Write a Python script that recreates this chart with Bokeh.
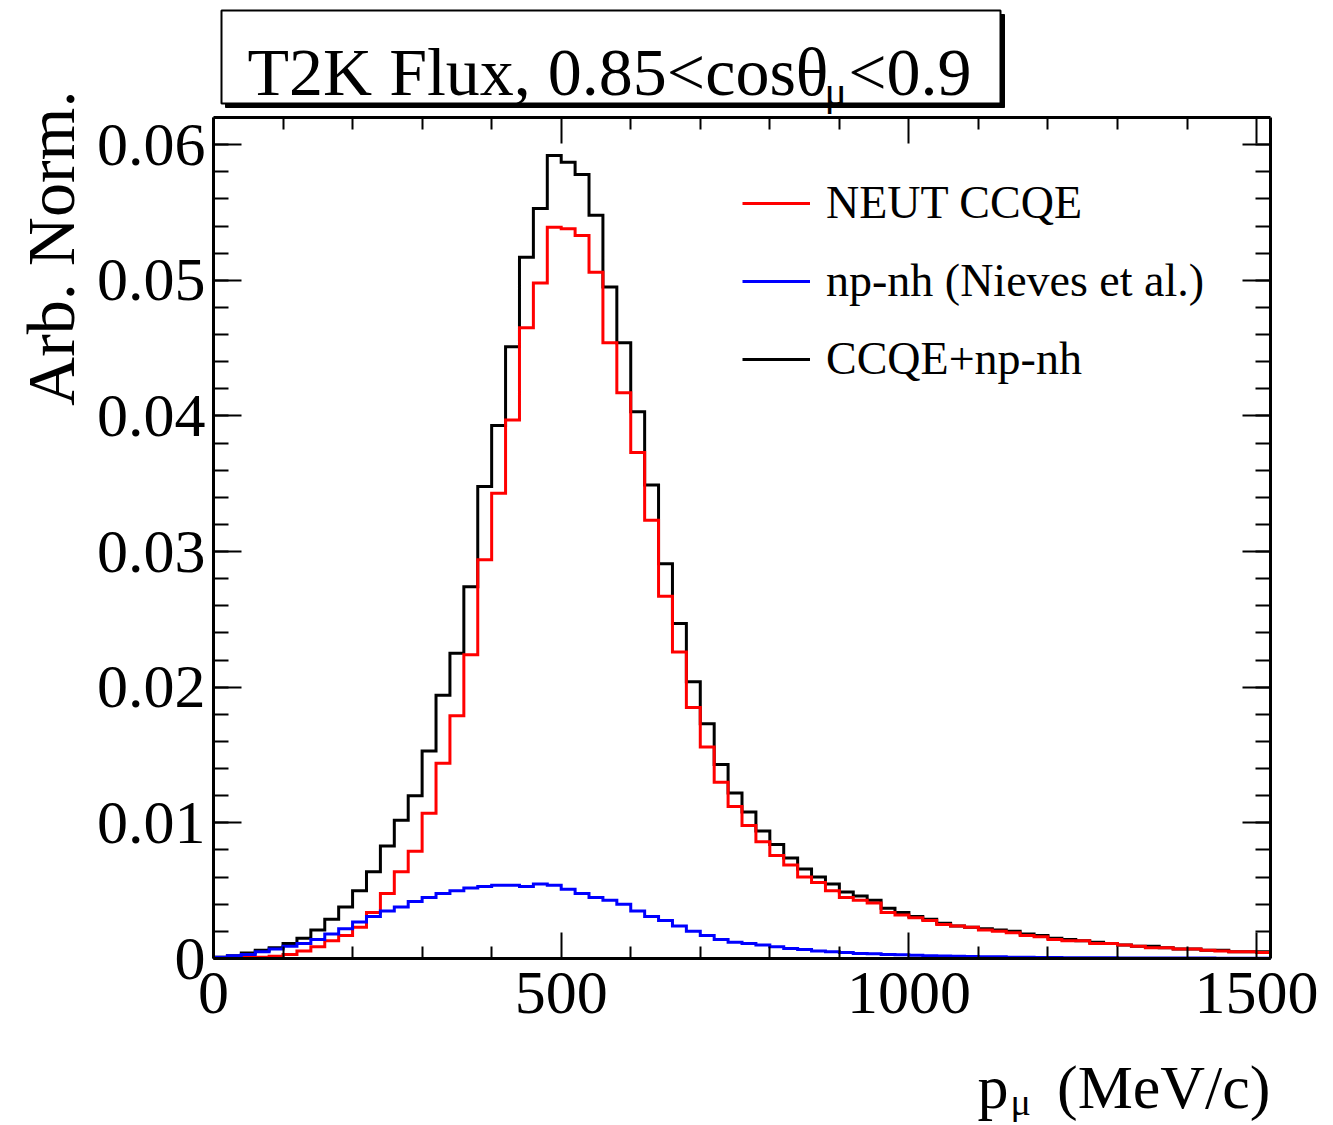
import numpy as np
from bokeh.plotting import figure
from bokeh.models import (Range1d, LinearAxis, FixedTicker, CustomJSTickFormatter,
                          Label, PolyAnnotation, Legend, LegendItem)
from bokeh.embed import file_html
from bokeh.resources import INLINE

# ---------------- data ----------------
bin_width = 20.0          # MeV/c
x_max = 1520.0
y_max = 0.062

neut_ccqe = [
    0.00002, 0.00004, 0.00007, 0.0001, 0.00017, 0.0003, 0.00056, 0.00086, 0.0013, 0.0017,
    0.0023, 0.0034, 0.0048, 0.0064, 0.0079, 0.0107, 0.0144, 0.0179, 0.0224, 0.0294,
    0.0343, 0.0397, 0.0465, 0.0498, 0.0539, 0.0538, 0.0533, 0.0506, 0.0454, 0.0417,
    0.0373, 0.0323, 0.0267, 0.0226, 0.0185, 0.0156, 0.0130, 0.0112, 0.0098, 0.0086,
    0.0076, 0.0069, 0.0060, 0.0056, 0.0050, 0.0045, 0.0043, 0.0041, 0.0034, 0.0032,
    0.0030, 0.0028, 0.0025, 0.0024, 0.0023, 0.0021, 0.0020, 0.0019, 0.0017, 0.0016,
    0.0014, 0.0013, 0.0013, 0.0011, 0.0011, 0.0010, 0.0009, 0.0008, 0.0008, 0.0007,
    0.0007, 0.0006, 0.00055, 0.0005, 0.0005, 0.00045]

np_nh = [
    0.0001, 0.0002, 0.0003, 0.0005, 0.0007, 0.0009, 0.0011, 0.0014, 0.0018, 0.0022,
    0.0027, 0.0031, 0.0035, 0.0038, 0.0042, 0.0045, 0.0048, 0.0050, 0.0052, 0.0053,
    0.0054, 0.0054, 0.0053, 0.0055, 0.0054, 0.0051, 0.0048, 0.0045, 0.0043, 0.0040,
    0.0035, 0.0031, 0.0028, 0.0024, 0.0020, 0.0017, 0.0014, 0.0012, 0.0011, 0.0010,
    0.00086, 0.00074, 0.00066, 0.00056, 0.00049, 0.00044, 0.00037, 0.00035, 0.0003, 0.00027,
    0.00024, 0.0002, 0.00018, 0.00016, 0.00014, 0.00013, 0.00012, 0.0001, 0.00009, 0.00008,
    0.00007, 0.00006, 0.00006, 0.00005, 0.00005, 0.00004, 0.00004, 0.00004, 0.00003, 0.00003,
    0.00003, 0.00003, 0.00002, 0.00002, 0.00002, 0.00002]

ccqe_np_nh = [
    0.0001, 0.0002, 0.0004, 0.0006, 0.0008, 0.0011, 0.0015, 0.0021, 0.0029, 0.0038,
    0.0050, 0.0064, 0.0083, 0.0102, 0.0120, 0.0153, 0.0194, 0.0225, 0.0274, 0.0348,
    0.0393, 0.0451, 0.0517, 0.0553, 0.0592, 0.0587, 0.0578, 0.0548, 0.0495, 0.0454,
    0.0403, 0.0349, 0.0291, 0.0247, 0.0204, 0.0173, 0.0143, 0.0122, 0.0108, 0.0094,
    0.0084, 0.0074, 0.0066, 0.0060, 0.0055, 0.0049, 0.0046, 0.0043, 0.0037, 0.0034,
    0.0031, 0.0029, 0.0026, 0.0024, 0.0023, 0.0022, 0.0021, 0.0020, 0.0018, 0.0017,
    0.0015, 0.0014, 0.0013, 0.0012, 0.0011, 0.0010, 0.0009, 0.0009, 0.0008, 0.0007,
    0.0007, 0.0006, 0.0006, 0.0005, 0.0005, 0.0005]

legend_labels = ["NEUT CCQE", "np-nh (Nieves et al.)", "CCQE+np-nh"]

x_ticks = [0, 500, 1000, 1500]
x_tick_labels = ["0", "500", "1000", "1500"]
y_ticks = [0.0, 0.01, 0.02, 0.03, 0.04, 0.05, 0.06]
y_tick_labels = ["0", "0.01", "0.02", "0.03", "0.04", "0.05", "0.06"]

# ---------------- layout (canvas pixels) ----------------
W, H = 1325, 1122
AX_L, AX_R, AX_T, AX_B = 213, 1270, 117, 958     # plot box edges in pixels
FONT = "Liberation Serif"
SX = (AX_R - AX_L) / x_max          # px per MeV
SY = (AX_B - AX_T) / y_max          # px per unit


def dx(px):
    """canvas pixel x -> data x"""
    return (px - AX_L) / SX


def dy(py):
    """canvas pixel y -> data y"""
    return (AX_B - py) / SY


p = figure(width=W, height=H,
           x_range=Range1d(dx(0), dx(W)), y_range=Range1d(dy(H), dy(0)),
           output_backend="svg", toolbar_location=None, title=None,
           x_axis_type=None, y_axis_type=None,
           min_border_left=0, min_border_right=0, min_border_top=0, min_border_bottom=0)
p.background_fill_color = "white"
p.border_fill_color = "white"
p.outline_line_color = None

# ---------------- histograms ----------------
edges = np.arange(len(neut_ccqe) + 1) * bin_width


def step_vals(v):
    return list(v) + [v[-1]]


r_black = p.step(edges, step_vals(ccqe_np_nh), mode="after", line_color="black",
                 line_width=3, line_join="miter")
r_red = p.step(edges, step_vals(neut_ccqe), mode="after", line_color="#ff0000",
               line_width=3, line_join="miter")
r_blue = p.step(edges, step_vals(np_nh), mode="after", line_color="#0000ff",
                line_width=3, line_join="miter")

# ---------------- axes (drawn at the box edges) ----------------
x_minor = [float(v) for v in np.arange(0, x_max + 1, 100) if v not in x_ticks]
y_minor = [round(float(v), 4) for v in np.arange(0, y_max, 0.002)]


def fmt(vals, labels):
    return CustomJSTickFormatter(args=dict(tvals=vals, tlabels=labels), code="""
        let best = 0;
        for (let k = 0; k < tvals.length; k++) {
            if (Math.abs(tvals[k] - tick) < Math.abs(tvals[best] - tick)) best = k;
        }
        return tlabels[best];
    """)


def blank():
    return CustomJSTickFormatter(code="return '';")


def style(ax, major_in, minor_in):
    ax.axis_line_color = "black"
    ax.axis_line_width = 3
    ax.major_tick_in = major_in
    ax.major_tick_out = 0
    ax.minor_tick_in = minor_in
    ax.minor_tick_out = 0
    ax.major_tick_line_color = "black"
    ax.minor_tick_line_color = "black"
    ax.major_tick_line_width = 2
    ax.minor_tick_line_width = 2
    ax.major_label_text_font = FONT
    ax.major_label_text_font_size = "62px"
    ax.major_label_text_color = "black"


xb = LinearAxis(ticker=FixedTicker(ticks=x_ticks, minor_ticks=x_minor),
                formatter=fmt(x_ticks, x_tick_labels),
                fixed_location=0.0, bounds=(0.0, x_max))
style(xb, 26, 12)
xb.major_label_standoff = 14
p.add_layout(xb, "below")

xt = LinearAxis(ticker=FixedTicker(ticks=x_ticks, minor_ticks=x_minor), formatter=blank(),
                fixed_location=y_max, bounds=(0.0, x_max))
style(xt, 26, 12)
p.add_layout(xt, "above")

yl = LinearAxis(ticker=FixedTicker(ticks=y_ticks, minor_ticks=y_minor),
                formatter=fmt(y_ticks, y_tick_labels),
                fixed_location=0.0, bounds=(0.0, y_max))
style(yl, 28, 15)
yl.major_label_standoff = 8
p.add_layout(yl, "left")

yr = LinearAxis(ticker=FixedTicker(ticks=y_ticks, minor_ticks=y_minor), formatter=blank(),
                fixed_location=x_max, bounds=(0.0, y_max))
style(yr, 28, 15)
p.add_layout(yr, "right")

# ---------------- axis titles ----------------
p.add_layout(Label(x=dx(50), y=dy(90), text="Arb. Norm.", angle=np.pi / 2,
                   text_align="right", text_baseline="alphabetic",
                   text_font=FONT, text_font_size="68px", text_color="black"))
p.add_layout(Label(x=dx(977), y=dy(1086), text="p", text_align="left",
                   text_baseline="alphabetic", text_font=FONT,
                   text_font_size="62px", text_color="black"))
p.add_layout(Label(x=dx(1010), y=dy(1101), text="μ", text_align="left",
                   text_baseline="alphabetic", text_font=FONT,
                   text_font_size="38px", text_color="black"))
p.add_layout(Label(x=dx(1270), y=dy(1086), text="(MeV/c)", text_align="right",
                   text_baseline="alphabetic", text_font=FONT,
                   text_font_size="62px", text_color="black"))

# ---------------- title box ----------------
bx0, bx1, by0, by1 = 221, 1000, 10, 103
sh = 4
p.add_layout(PolyAnnotation(xs=[dx(bx0 + sh), dx(bx1 + sh), dx(bx1 + sh), dx(bx0 + sh)],
                            ys=[dy(by0 + sh), dy(by0 + sh), dy(by1 + sh), dy(by1 + sh)],
                            fill_color="black", fill_alpha=1.0, line_color="black",
                            line_alpha=1.0, line_width=1, level="overlay"))
p.add_layout(PolyAnnotation(xs=[dx(bx0), dx(bx1), dx(bx1), dx(bx0)],
                            ys=[dy(by0), dy(by0), dy(by1), dy(by1)],
                            fill_color="white", fill_alpha=1.0, line_color="black",
                            line_alpha=1.0, line_width=2, level="overlay"))
p.add_layout(Label(x=dx(247), y=dy(71), text="T2K Flux, 0.85<cosθ", text_align="left",
                   text_baseline="alphabetic", text_font=FONT, text_font_size="68px",
                   text_color="black", level="overlay"))
p.add_layout(Label(x=dx(824), y=dy(90), text="μ", text_align="left",
                   text_baseline="alphabetic", text_font=FONT, text_font_size="42px",
                   text_color="black", level="overlay"))
p.add_layout(Label(x=dx(971), y=dy(71), text="<0.9", text_align="right",
                   text_baseline="alphabetic", text_font=FONT, text_font_size="68px",
                   text_color="black", level="overlay"))

# ---------------- legend ----------------
legend = Legend(items=[LegendItem(label=legend_labels[0], renderers=[r_red]),
                       LegendItem(label=legend_labels[1], renderers=[r_blue]),
                       LegendItem(label=legend_labels[2], renderers=[r_black])],
                location=(742, H - 385),
                orientation="vertical", padding=0, margin=0, spacing=25,
                glyph_width=68, glyph_height=52, label_height=52, label_standoff=16,
                label_text_font=FONT, label_text_font_size="46px",
                label_text_color="black", border_line_color=None,
                background_fill_alpha=0.0)
p.add_layout(legend)

open("out.html", "w").write(file_html(p, INLINE))
